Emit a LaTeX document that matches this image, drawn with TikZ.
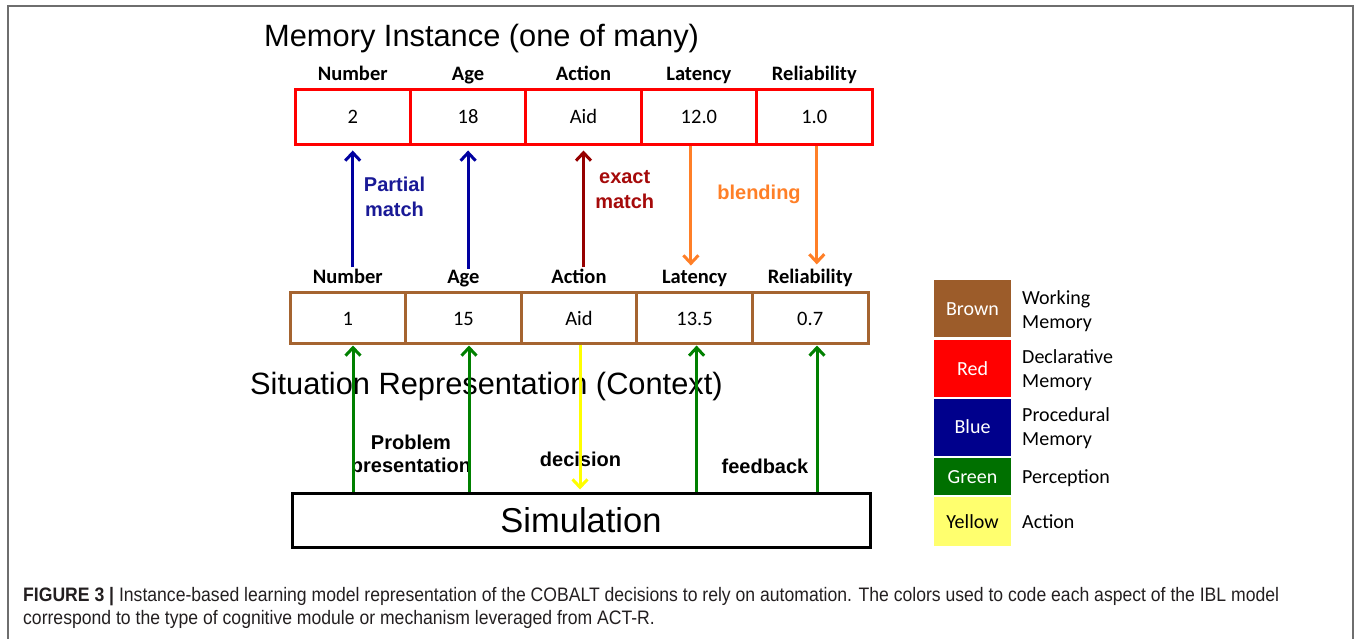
\documentclass[tikz,border=0pt]{standalone}
\usepackage{fontspec}
\usepackage{graphicx}
\setmainfont{Liberation Sans}
\newfontfamily\carl{Carlito}
\usetikzlibrary{arrows.meta}
\definecolor{brn}{RGB}{165,100,48}
\definecolor{legbrn}{RGB}{156,92,42}
\definecolor{navyarr}{RGB}{0,0,160}
\definecolor{navytxt}{RGB}{25,25,150}
\definecolor{darkred}{RGB}{150,0,0}
\definecolor{darkredtxt}{RGB}{165,10,10}
\definecolor{orng}{RGB}{255,127,39}
\definecolor{grn}{RGB}{0,128,0}
\definecolor{leggrn}{RGB}{0,112,0}
\definecolor{legblue}{RGB}{0,0,140}
\definecolor{ylw}{RGB}{255,255,0}
\definecolor{legylw}{RGB}{255,255,110}
\definecolor{framegray}{RGB}{110,110,110}
\definecolor{captxt}{RGB}{35,31,32}
\begin{document}
\begin{tikzpicture}[x=1pt,y=-1pt,
  hdr/.style={font=\carl\bfseries\fontsize{20.5}{24}\selectfont, anchor=base, inner sep=1pt},
  cellR/.style={draw=red, line width=3pt, minimum width=115.4pt, minimum height=55pt, inner sep=0pt, text height=13pt, text depth=0pt, font=\carl\fontsize{20.5}{24}\selectfont},
  cellB/.style={draw=brn, line width=3pt, minimum width=115.6pt, minimum height=51pt, inner sep=0pt, text height=15pt, text depth=0pt, font=\carl\fontsize{20.5}{24}\selectfont},
  lbl/.style={font=\bfseries\fontsize{20}{25}\selectfont, align=center, inner sep=0pt},
  big/.style={font=\fontsize{30.8}{36}\selectfont, anchor=base west, inner sep=0pt},
  conn/.style={line width=3pt, -{Straight Barb[length=8pt,width=15pt]}},
  legbox/.style={minimum width=77pt, inner sep=0pt, text height=13pt, text depth=0pt, font=\carl\fontsize{20}{24}\selectfont},
  legtxt/.style={font=\carl\fontsize{20}{24.5}\selectfont, align=left, inner sep=0pt, anchor=west},
]
\useasboundingbox (0,0) rectangle (1356,639);
% outer frame
\draw[framegray, line width=2pt] (8,660) -- (8,6) -- (1353,6) -- (1353,660);

% titles
\node[big] (title) at (264,47) {Memory Instance (one of many)};
\node[big] (situ) at (250,394) {Situation Representation (Context)};

% memory instance row
\node[cellR] (t1) at (352.7,117.5) {2};
\node[cellR] (t2) at (468.1,117.5) {18};
\node[cellR] (t3) at (583.5,117.5) {Aid};
\node[cellR] (t4) at (698.9,117.5) {12.0};
\node[cellR] (t5) at (814.3,117.5) {1.0};
\node[hdr] (h1) at (352.7,81) {Number};
\node[hdr] (h2) at (468.1,81) {Age};
\node[hdr] (h3) at (583.5,81) {Action};
\node[hdr] (h4) at (698.9,81) {Latency};
\node[hdr] (h5) at (814.3,81) {Reliability};

% working memory row
\node[cellB] (b1) at (347.8,317.5) {1};
\node[cellB] (b2) at (463.4,317.5) {15};
\node[cellB] (b3) at (579.0,317.5) {Aid};
\node[cellB] (b4) at (694.6,317.5) {13.5};
\node[cellB] (b5) at (810.2,317.5) {0.7};
\node[hdr] (lb1) at (347.8,283) {Number};
\node[hdr] (lb2) at (463.4,283) {Age};
\node[hdr] (lb3) at (579.0,283) {Action};
\node[hdr] (lb4) at (694.6,283) {Latency};
\node[hdr] (lb5) at (810.2,283) {Reliability};

% simulation
\node[draw=black, line width=3pt, minimum width=578pt, minimum height=54pt, inner sep=0pt,
      text height=24pt, text depth=0pt, font=\fontsize{34.5}{40}\selectfont] (sim) at (581,520) {Simulation};

% labels
\node[lbl, text=navytxt] (pm) at (394.5,197) {Partial\\match};
\node[lbl, text=darkredtxt] (em) at (624.7,190) {exact\\match};
\node[lbl, text=orng, anchor=base] (bl) at (759,199) {blending};
\node[lbl, font=\bfseries\fontsize{20}{23}\selectfont] (pp) at (411,456) {Problem\\presentation};
\node[lbl, anchor=base] (dc) at (580.5,466) {decision};
\node[lbl, anchor=base] (fb) at (765,473) {feedback};

% retrieval arrows
\draw[conn, navyarr, shorten >=4pt] (t1.south |- lb1.north) -- (t1.south);
\draw[conn, navyarr, shorten >=4pt] (t2.south |- lb2.north) -- (t2.south);
\draw[conn, darkred, shorten >=4pt] (t3.south |- lb3.north) -- (t3.south);
\draw[conn, orng, shorten >=3pt] ([xshift=-8pt]t4.south) -- ([xshift=-8pt]t4.south |- lb4.north);
\draw[conn, orng, shorten >=3pt] ([xshift=2.5pt]t5.south) -- ([xshift=2.5pt]t5.south |- lb5.north);

% perception / action arrows
\draw[conn, grn, shorten >=1pt] ([xshift=5.2pt]b1.south |- sim.north) -- ([xshift=5.2pt]b1.south);
\draw[conn, grn, shorten >=1pt] ([xshift=5.6pt]b2.south |- sim.north) -- ([xshift=5.6pt]b2.south);
\draw[conn, grn, shorten >=1pt] ([xshift=2pt]b4.south |- sim.north) -- ([xshift=2pt]b4.south);
\draw[conn, grn, shorten >=1pt] ([xshift=6.8pt]b5.south |- sim.north) -- ([xshift=6.8pt]b5.south);
\draw[conn, ylw, shorten >=2pt] ([xshift=1pt]b3.south) -- ([xshift=1pt]b3.south |- sim.north);

% legend
\node[legbox, minimum height=57pt, fill=legbrn, text=white] (kbrn) at (972.5,308.5) {Brown};
\node[legbox, minimum height=57pt, fill=red, text=white] (kred) at (972.5,368.5) {Red};
\node[legbox, minimum height=57pt, fill=legblue, text=white] (kblu) at (972.5,427) {Blue};
\node[legbox, minimum height=37pt, fill=leggrn, text=white] (kgrn) at (972.5,476.5) {Green};
\node[legbox, minimum height=49pt, fill=legylw, text=black] (kylw) at (972.5,521.5) {Yellow};
\node[legtxt] (tbrn) at (1022,311) {Working\\Memory};
\node[legtxt] (tred) at (1022,370) {Declarative\\Memory};
\node[legtxt] (tblu) at (1022,428) {Procedural\\Memory};
\node[legtxt, anchor=base west] (tgrn) at (1022,483.5) {Perception};
\node[legtxt, anchor=base west] (tylw) at (1022,528.5) {Action};

% caption
\node[anchor=north west, inner sep=0pt, text=captxt] (cap) at (23,585.5) {\resizebox{1256pt}{\height}{\fontsize{19.5}{22.6}\selectfont\begin{tabular}{@{}l@{}}\textbf{FIGURE 3 |} Instance-based learning model representation of the COBALT decisions to rely on automation. The colors used to code each aspect of the IBL model\\correspond to the type of cognitive module or mechanism leveraged from ACT-R.\end{tabular}}};
\end{tikzpicture}
\end{document}
